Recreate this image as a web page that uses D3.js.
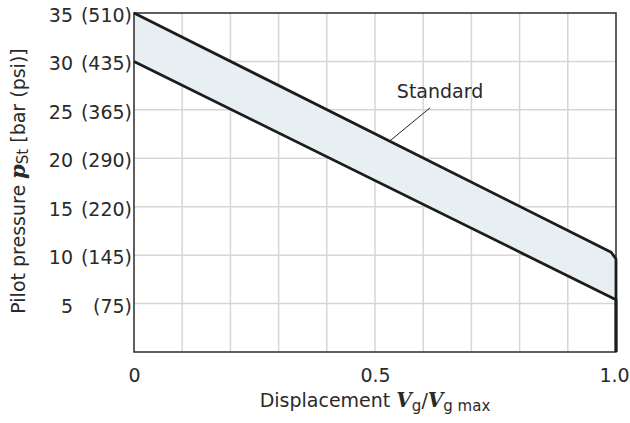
<!DOCTYPE html>
<html>
<head>
<meta charset="utf-8">
<script src="https://cdn.jsdelivr.net/npm/d3@7"></script>
<style>
  body { margin: 0; background: #fff; }
  text { font-family: "DejaVu Sans", sans-serif; fill: #2a2a2a; }
</style>
</head>
<body>
<div id="vis"></div>
<script>
// Frame
const FRAME_WIDTH = 630;
const FRAME_HEIGHT = 423;
const MARGINS = { left: 134, right: 14, top: 13, bottom: 71 };
const VIS_WIDTH = FRAME_WIDTH - MARGINS.left - MARGINS.right;
const VIS_HEIGHT = FRAME_HEIGHT - MARGINS.top - MARGINS.bottom;
const FONT = "19px";

// Data
const xTicks = [0, 0.5, 1.0];
const xTickLabels = ["0", "0.5", "1.0"];
const yTicks = [5, 10, 15, 20, 25, 30, 35];
const psiLabels = ["(75)", "(145)", "(220)", "(290)", "(365)", "(435)", "(510)"];

// upper and lower limit curves
const upperX = [0, 0.99, 1.0, 1.0];
const upperY = [35, 10.3, 9.6, 0];
const lowerX = [0, 1.0, 1.0];
const lowerY = [30, 5.4, 0];

// band between the curves
const bandX = [0, 0.99, 1.0];
const bandTop = [35, 10.3, 9.6];
const bandBottom = [30, 5.6, 5.4];

// annotation
const labelText = "Standard";
const labelPos = [0.635, 26.2];
const leaderX = [0.614, 0.531];
const leaderY = [25.2, 21.8];

const svg = d3.select("#vis")
    .append("svg")
    .attr("width", FRAME_WIDTH)
    .attr("height", FRAME_HEIGHT);

const X_SCALE = d3.scaleLinear().domain([0, 1]).range([0, VIS_WIDTH]);
const Y_SCALE = d3.scaleLinear().domain([0, 35]).range([VIS_HEIGHT, 0]);

const g = svg.append("g")
    .attr("transform", "translate(" + MARGINS.left + "," + MARGINS.top + ")");

// grid
g.selectAll(".vgrid")
    .data(d3.range(1, 10).map(i => i / 10))
    .enter().append("line")
    .attr("x1", d => X_SCALE(d)).attr("x2", d => X_SCALE(d))
    .attr("y1", 0).attr("y2", VIS_HEIGHT)
    .attr("stroke", "#d6d6d6").attr("stroke-width", 1.5);

g.selectAll(".hgrid")
    .data(yTicks.slice(0, -1))
    .enter().append("line")
    .attr("x1", 0).attr("x2", VIS_WIDTH)
    .attr("y1", d => Y_SCALE(d)).attr("y2", d => Y_SCALE(d))
    .attr("stroke", "#d6d6d6").attr("stroke-width", 1.5);

// band
const area = d3.area()
    .x((d, i) => X_SCALE(bandX[i]))
    .y0((d, i) => Y_SCALE(bandBottom[i]))
    .y1((d, i) => Y_SCALE(bandTop[i]));

g.append("path")
    .datum(bandX)
    .attr("d", area)
    .attr("fill", "#e7eff3");

// frame
g.append("rect")
    .attr("x", 0).attr("y", 0)
    .attr("width", VIS_WIDTH).attr("height", VIS_HEIGHT)
    .attr("fill", "none")
    .attr("stroke", "#2b2b2b").attr("stroke-width", 1.5);

// curves
const line = d3.line()
    .x(d => X_SCALE(d[0]))
    .y(d => Y_SCALE(d[1]));

g.append("path")
    .datum(upperX.map((x, i) => [x, upperY[i]]))
    .attr("d", line)
    .attr("fill", "none")
    .attr("stroke", "#1c1c1c").attr("stroke-width", 2.8)
    .attr("stroke-linejoin", "round");

g.append("path")
    .datum(lowerX.map((x, i) => [x, lowerY[i]]))
    .attr("d", line)
    .attr("fill", "none")
    .attr("stroke", "#1c1c1c").attr("stroke-width", 2.8)
    .attr("stroke-linejoin", "round");

// annotation
g.append("line")
    .attr("x1", X_SCALE(leaderX[0])).attr("y1", Y_SCALE(leaderY[0]))
    .attr("x2", X_SCALE(leaderX[1])).attr("y2", Y_SCALE(leaderY[1]))
    .attr("stroke", "#222").attr("stroke-width", 1);

g.append("text")
    .attr("x", X_SCALE(labelPos[0])).attr("y", Y_SCALE(labelPos[1]))
    .attr("text-anchor", "middle")
    .attr("font-size", FONT)
    .text(labelText);

// x axis labels
const xAxis = g.append("g")
    .attr("transform", "translate(0," + VIS_HEIGHT + ")")
    .call(d3.axisBottom(X_SCALE).tickValues(xTicks).tickSize(0).tickPadding(17)
        .tickFormat((d, i) => xTickLabels[i]));
xAxis.select(".domain").remove();
xAxis.selectAll("text")
    .attr("font-size", FONT)
    .attr("font-family", "DejaVu Sans")
    .attr("fill", "#2a2a2a")
    .attr("dx", (d, i) => i === xTicks.length - 1 ? -2 : 0);

// y axis labels: bar column and psi column
const yAxis = g.append("g")
    .call(d3.axisLeft(Y_SCALE).tickValues(yTicks).tickSize(0).tickPadding(2)
        .tickFormat((d, i) => psiLabels[i]));
yAxis.select(".domain").remove();
yAxis.selectAll("text")
    .attr("dy", "0.45em")
    .attr("font-size", FONT)
    .attr("font-family", "DejaVu Sans")
    .attr("fill", "#2a2a2a");

yAxis.selectAll(".tick")
    .append("text")
    .attr("x", 73 - MARGINS.left)
    .attr("dy", "0.45em")
    .attr("text-anchor", "end")
    .attr("font-size", FONT)
    .attr("font-family", "DejaVu Sans")
    .attr("fill", "#2a2a2a")
    .text(d => d);

// x axis title
const xt = svg.append("text")
    .attr("x", MARGINS.left + VIS_WIDTH / 2)
    .attr("y", 407)
    .attr("text-anchor", "middle")
    .attr("font-size", FONT);
xt.append("tspan").text("Displacement ");
xt.append("tspan").attr("font-family", "DejaVu Serif").attr("font-style", "italic")
    .attr("font-weight", "bold").attr("font-size", "20px").text("V");
xt.append("tspan").attr("font-size", "15px").attr("dy", 4).text("g");
xt.append("tspan").attr("dy", -4).text("/");
xt.append("tspan").attr("font-family", "DejaVu Serif").attr("font-style", "italic")
    .attr("font-weight", "bold").attr("font-size", "20px").text("V");
xt.append("tspan").attr("font-size", "15px").attr("dy", 4).text("g max");

// y axis title
const yt = svg.append("text")
    .attr("transform", "translate(25,181) rotate(-90)")
    .attr("text-anchor", "middle")
    .attr("font-size", FONT);
yt.append("tspan").text("Pilot pressure ");
yt.append("tspan").attr("font-family", "DejaVu Serif").attr("font-style", "italic")
    .attr("font-weight", "bold").attr("font-size", "21px").text("p");
yt.append("tspan").attr("font-size", "15px").attr("dy", 3).text("St");
yt.append("tspan").attr("dy", -3).text(" [bar (psi)]");
</script>
</body>
</html>
